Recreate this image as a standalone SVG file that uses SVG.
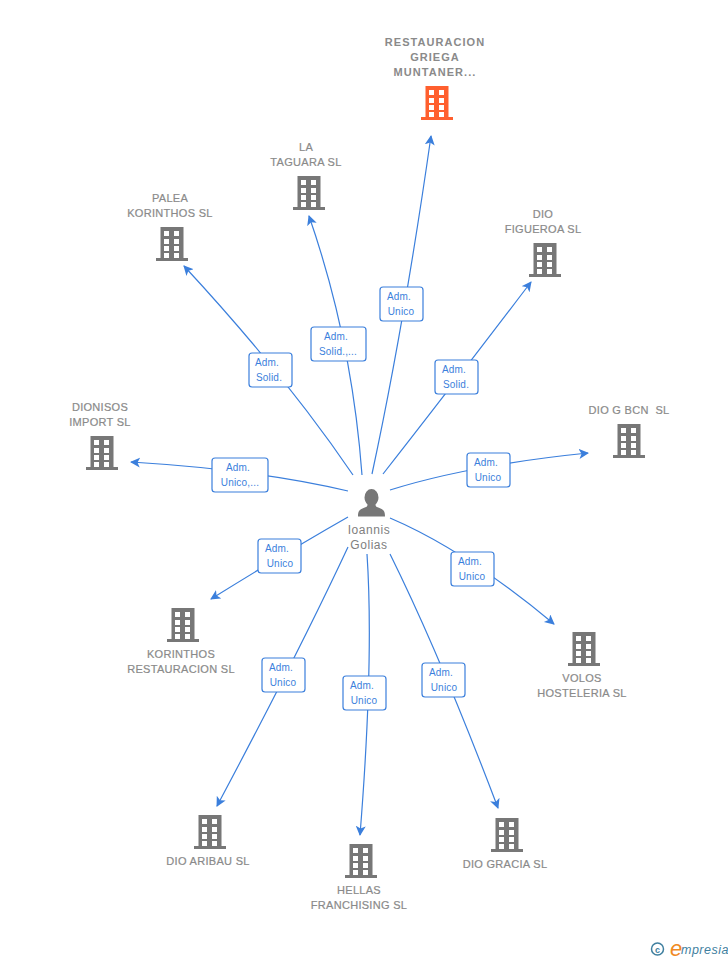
<svg xmlns="http://www.w3.org/2000/svg" width="728" height="960" viewBox="0 0 728 960">
<style>
text{font-family:"Liberation Sans",Arial,sans-serif}
.n{font-size:11px;fill:#8a8a8a;text-anchor:middle;letter-spacing:.3px;stroke:#8a8a8a;stroke-width:.2px}
.h{font-size:11px;fill:#8a8a8a;font-weight:700;text-anchor:middle;letter-spacing:1.05px}
.p{font-size:12px;fill:#808080;text-anchor:middle;letter-spacing:.55px}
.l{font-size:10px;fill:#3b7fdc;text-anchor:middle;letter-spacing:.2px}
.c{fill:none;stroke:#3b7fdc;stroke-width:1.2}
.b{fill:#fff;stroke:#3b7fdc;stroke-width:1.2}
.w{fill:#fff}
</style>
<defs>
<marker id="a" markerWidth="12" markerHeight="12" refX="9" refY="5" orient="auto" markerUnits="userSpaceOnUse"><path d="M0 0L10 5L0 10L2.500 5Z" fill="#3b7fdc"/></marker>
<g id="bld"><path d="M-11.500 -17H11.500V14H16V17H-16V14H-11.500Z"/><g class="w"><rect x="-8" y="-13" width="5" height="5"/><rect x="2" y="-13" width="5" height="5"/><rect x="-8" y="-5" width="5" height="5"/><rect x="2" y="-5" width="5" height="5"/><rect x="-8" y="2" width="5" height="5"/><rect x="2" y="2" width="5" height="5"/><rect x="-8" y="9" width="5" height="5"/><rect x="2" y="9" width="5" height="5"/></g></g>
</defs>
<g id="connectors">
<path class="c" marker-end="url(#a)" d="M372 474Q404 325 431 136"/>
<path class="c" marker-end="url(#a)" d="M362 475Q352 340 309 216"/>
<path class="c" marker-end="url(#a)" d="M353 475Q285 375 184 266"/>
<path class="c" marker-end="url(#a)" d="M383 474Q445 395 531 282"/>
<path class="c" marker-end="url(#a)" d="M348 491Q260 470 131 462"/>
<path class="c" marker-end="url(#a)" d="M390 490Q470 465 588 453"/>
<path class="c" marker-end="url(#a)" d="M348 517Q290 550 211 599"/>
<path class="c" marker-end="url(#a)" d="M390 518Q465 550 554 624"/>
<path class="c" marker-end="url(#a)" d="M348 547Q300 650 217 806"/>
<path class="c" marker-end="url(#a)" d="M367 554Q374 660 360 835"/>
<path class="c" marker-end="url(#a)" d="M390 554Q440 655 498 808"/>
</g>
<g id="n1"><use href="#bld" x="437" y="103" fill="#ff5f2e"/><text class="h" x="435" y="46">RESTAURACION</text><text class="h" x="435" y="61">GRIEGA</text><text class="h" x="435" y="76">MUNTANER...</text></g>
<g id="n2"><use href="#bld" x="309" y="193" fill="#777"/><text class="n" x="306" y="151">LA</text><text class="n" x="306" y="166">TAGUARA SL</text></g>
<g id="n3"><use href="#bld" x="172" y="244" fill="#777"/><text class="n" x="170" y="202">PALEA</text><text class="n" x="170" y="217">KORINTHOS SL</text></g>
<g id="n4"><use href="#bld" x="545" y="260" fill="#777"/><text class="n" x="543" y="218">DIO</text><text class="n" x="543" y="233">FIGUEROA SL</text></g>
<g id="n5"><use href="#bld" x="102" y="453" fill="#777"/><text class="n" x="100" y="411">DIONISOS</text><text class="n" x="100" y="426">IMPORT SL</text></g>
<g id="n6"><use href="#bld" x="629" y="441" fill="#777"/><text class="n" x="629" y="414" xml:space="preserve">DIO G BCN  SL</text></g>
<g id="n7"><use href="#bld" x="183" y="625" fill="#777"/><text class="n" x="181" y="658">KORINTHOS</text><text class="n" x="181" y="673">RESTAURACION SL</text></g>
<g id="n8"><use href="#bld" x="584" y="649" fill="#777"/><text class="n" x="582" y="682">VOLOS</text><text class="n" x="582" y="697">HOSTELERIA SL</text></g>
<g id="n9"><use href="#bld" x="210" y="832" fill="#777"/><text class="n" x="208" y="865">DIO ARIBAU SL</text></g>
<g id="n10"><use href="#bld" x="361" y="861" fill="#777"/><text class="n" x="359" y="894">HELLAS</text><text class="n" x="359" y="909">FRANCHISING SL</text></g>
<g id="n11"><use href="#bld" x="507" y="835" fill="#777"/><text class="n" x="505" y="868">DIO GRACIA SL</text></g>
<g id="person"><path fill="#777" d="M371.500 489a7 8.500 0 0 1 7 8.500c0 3-1.500 5.500-3 7 0 2 1 2.500 4 3.500 4 1.500 5.500 3 5.500 8.500h-27c0-5.500 1.500-7 5.500-8.500 3-1 4-1.500 4-3.500-1.500-1.500-3-4-3-7a7 8.500 0 0 1 7-8.500z"/><text class="p" x="369" y="534">Ioannis</text><text class="p" x="369" y="549">Golias</text></g>
<g id="e1"><rect class="b" x="380" y="287" width="43" height="34" rx="3"/><text class="l" x="399" y="300">Adm.</text><text class="l" x="401" y="315">Unico</text></g>
<g id="e2"><rect class="b" x="311" y="327" width="55" height="34" rx="3"/><text class="l" x="336" y="340">Adm.</text><text class="l" x="338" y="355">Solid.,...</text></g>
<g id="e3"><rect class="b" x="249" y="353" width="43" height="34" rx="3"/><text class="l" x="267" y="366">Adm.</text><text class="l" x="269" y="381">Solid.</text></g>
<g id="e4"><rect class="b" x="435" y="360" width="43" height="34" rx="3"/><text class="l" x="454" y="373">Adm.</text><text class="l" x="456" y="388">Solid.</text></g>
<g id="e5"><rect class="b" x="212" y="458" width="56" height="34" rx="3"/><text class="l" x="238" y="471">Adm.</text><text class="l" x="240" y="486">Unico,...</text></g>
<g id="e6"><rect class="b" x="467" y="453" width="43" height="34" rx="3"/><text class="l" x="486" y="466">Adm.</text><text class="l" x="488" y="481">Unico</text></g>
<g id="e7"><rect class="b" x="258" y="539" width="43" height="34" rx="3"/><text class="l" x="277" y="552">Adm.</text><text class="l" x="280" y="567">Unico</text></g>
<g id="e8"><rect class="b" x="451" y="552" width="43" height="34" rx="3"/><text class="l" x="470" y="565">Adm.</text><text class="l" x="472" y="580">Unico</text></g>
<g id="e9"><rect class="b" x="262" y="658" width="43" height="34" rx="3"/><text class="l" x="281" y="671">Adm.</text><text class="l" x="283" y="686">Unico</text></g>
<g id="e10"><rect class="b" x="343" y="676" width="43" height="34" rx="3"/><text class="l" x="362" y="689">Adm.</text><text class="l" x="364" y="704">Unico</text></g>
<g id="e11"><rect class="b" x="422" y="663" width="43" height="34" rx="3"/><text class="l" x="441" y="676">Adm.</text><text class="l" x="444" y="691">Unico</text></g>
<g id="credit"><circle cx="657.500" cy="949" r="6" fill="none" stroke="#3f7f9f" stroke-width="1.500"/><text x="657.500" y="952.500" font-size="9" font-weight="700" fill="#3f7f9f" text-anchor="middle">c</text><text x="670" y="956" font-size="22" font-style="italic" font-family="Liberation Serif" fill="#f08a24">e</text><text x="681" y="954" font-size="12.500" font-style="italic" font-family="Liberation Serif" fill="#3f7f9f" letter-spacing=".5">mpresia</text></g>
</svg>
